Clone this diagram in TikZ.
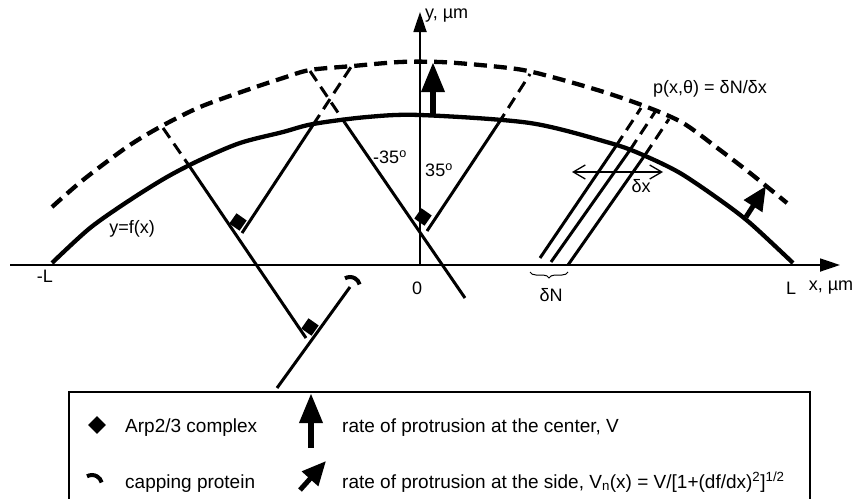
\documentclass[tikz,border=0pt]{standalone}
\usepackage{fontspec}
\setmainfont{Liberation Sans}
\usetikzlibrary{arrows.meta,decorations.pathreplacing}

\begin{document}
\begin{tikzpicture}[x=1pt,y=-1pt,
  axisline/.style={line width=1.8pt,-{Triangle[width=13pt,length=20pt]}},
  membrane/.style={line width=4.3pt},
  newfront/.style={line width=4.3pt,dash pattern=on 13pt off 7pt},
  fil/.style={line width=3pt},
  growth/.style={line width=3pt,dash pattern=on 12pt off 7pt},
  arp/.style={fill=black,minimum size=12.5pt,inner sep=0pt},
  capstroke/.style={line width=4pt},
  push/.style={line width=6.5pt,-{Triangle[width=22pt,length=30pt]}},
  sidepush/.style={line width=5pt,-{Triangle[width=21pt,length=24pt]}},
  lbl/.style={font=\fontsize{18}{21}\selectfont,inner sep=0pt},
  legtext/.style={font=\fontsize{19}{22}\selectfont,inner sep=0pt,anchor=base west}
]
\useasboundingbox (0,0) rectangle (858,498);

% axes
\coordinate (xl) at (10,265);
\coordinate (xr) at (840,265);
\coordinate (o) at (420,265);
\coordinate (yt) at (420,12);
\draw[axisline] (xl) -- (xr);
\draw[axisline] (o) -- (yt);

% leading edge now and later
\draw[membrane] plot[smooth,tension=0.5] coordinates {(52,263) (90,228) (130,200) (167,177) (200,160) (240,143) (283,132) (313,124) (367,117) (420,115) (530,123) (610,143) (643,155) (680,173) (720,200) (750,223) (793,263)};
\draw[newfront] plot[smooth,tension=0.5] coordinates {(52,207) (83,180) (127,147) (160,127) (200,107) (247,90) (283,78) (310,70) (353,66) (400,62) (440,62) (480,65) (523,70) (563,80) (607,93) (647,107) (683,123) (720,150) (750,173) (787,203)};

% filaments
\coordinate (m1a) at (310,71);
\coordinate (m1b) at (345,123);
\coordinate (m1c) at (465,298);
\draw[growth] (m1a) -- (m1b);
\draw[fil] (m1b) -- (m1c);
\coordinate (b1a) at (427,231);
\coordinate (b1b) at (498,124);
\coordinate (b1c) at (530,74);
\draw[fil] (b1a) -- (b1b);
\draw[growth] (b1b) -- (b1c);
\node[arp,rotate=55] (d1) at (423,217) {};

\coordinate (m2a) at (163,128);
\coordinate (m2b) at (190,167);
\coordinate (m2c) at (306,338);
\draw[growth] (m2a) -- (m2b);
\draw[fil] (m2b) -- (m2c);
\coordinate (b2a) at (242,233);
\coordinate (b2b) at (313,125);
\coordinate (b2c) at (351,67);
\draw[fil] (b2a) -- (b2b);
\draw[growth] (b2b) -- (b2c);
\node[arp,rotate=55] (d2) at (238,222) {};

\coordinate (b3a) at (277,388);
\coordinate (b3b) at (350,287);
\draw[fil] (b3a) -- (b3b);
\node[arp,rotate=55] (d3) at (310,327) {};
\draw[capstroke] ([shift={(-120:10)}]b3b) arc (-120:-15:10);

% filaments counted in dx
\coordinate (t1a) at (540,258);
\coordinate (t1b) at (616,146);
\coordinate (t1c) at (641,108);
\coordinate (t2a) at (551,262);
\coordinate (t2b) at (630,150);
\coordinate (t2c) at (655,112);
\coordinate (t3a) at (568,265);
\coordinate (t3b) at (645,155);
\coordinate (t3c) at (669,119);
\foreach \i in {1,2,3}{
  \draw[fil] (t\i a) -- (t\i b);
  \draw[growth] (t\i b) -- (t\i c);
}
\draw[line width=1pt,decorate,decoration={brace,mirror,amplitude=6pt}] (530,272) -- (568,272);
\coordinate (dxl) at (572,172);
\coordinate (dxr) at (663,172);
\draw[line width=1.3pt,{Straight Barb[length=12pt,width=14pt]}-{Straight Barb[length=12pt,width=14pt]}] (dxl) -- (dxr);

% protrusion
\coordinate (v0) at (433,117);
\coordinate (v1) at (433,62);
\draw[push] (v0) -- (v1);
\coordinate (s0) at (746,217);
\coordinate (s1) at (766,186);
\draw[sidepush] (s0) -- (s1);

% labels
\node[lbl,anchor=west] (ylab) at (425,16) {y, µm};
\node[lbl] (xlab) at (831,288) {x, µm};
\node[lbl] (Lr) at (791,288) {L};
\node[lbl] (Ll) at (45,276) {-L};
\node[lbl] (zero) at (417,288) {0};
\node[lbl] (fx) at (132,229) {y=f(x)};
\node[lbl] (pdens) at (710,89) {p(x,θ) = δN/δx};
\node[lbl] (dN) at (551,295) {δN};
\node[lbl] (dx) at (641,186) {δx};
\node[lbl] (am) at (390,157) {-35\textsuperscript{o}};
\node[lbl] (ap) at (439,170) {35\textsuperscript{o}};

% legend
\coordinate (kbl) at (69,500);
\coordinate (ktl) at (69,392);
\coordinate (ktr) at (810,392);
\coordinate (kbr) at (810,500);
\draw[line width=1.3pt] (kbl) -- (ktl) -- (ktr) -- (kbr);
\node[arp,rotate=45] (karp) at (97,425) {};
\node[legtext] (tarp) at (125,432) {Arp2/3 complex};
\coordinate (kc) at (92,485);
\draw[capstroke] ([shift={(-120:10)}]kc) arc (-120:-15:10);
\node[legtext] (tcap) at (125,488) {capping protein};
\coordinate (kv0) at (311,448);
\coordinate (kv1) at (311,393);
\draw[push] (kv0) -- (kv1);
\node[legtext] (tv) at (342,432) {rate of protrusion at the center, V};
\coordinate (ks0) at (300,490);
\coordinate (ks1) at (326,461);
\draw[sidepush] (ks0) -- (ks1);
\node[legtext] (tvn) at (342,488) {rate of protrusion at the side, V\textsubscript{n}(x) = V/[1+(df/dx)\textsuperscript{2}]\textsuperscript{1/2}};
\end{tikzpicture}
\end{document}
